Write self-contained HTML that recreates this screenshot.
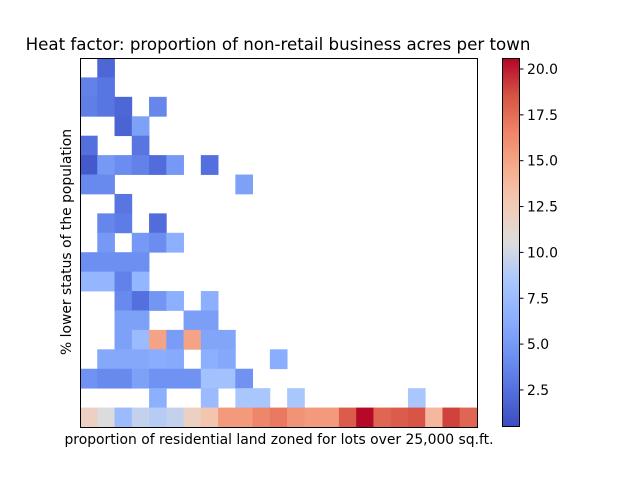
<!DOCTYPE html>
<html><head><meta charset="utf-8"><style>body{margin:0;background:#fff}svg text{font-family:"DejaVu Sans","Liberation Sans",sans-serif}</style></head>
<body>
<svg id="chart" width="640" height="480" xmlns="http://www.w3.org/2000/svg">
<text x="278" y="50" text-anchor="middle" font-size="16.67">Heat factor: proportion of non-retail business acres per town</text>
<g id="cells"></g>
<rect x="80.5" y="58.5" width="397" height="369" fill="none" stroke="#000" stroke-width="1"/>
<text x="279" y="444" text-anchor="middle" font-size="13.9">proportion of residential land zoned for lots over 25,000 sq.ft.</text>
<text transform="translate(71,242) rotate(-90)" text-anchor="middle" font-size="13.9">% lower status of the population</text>
<defs><linearGradient id="cw" x1="0" y1="1" x2="0" y2="0"></linearGradient></defs>
<rect x="502" y="58" width="18" height="369" fill="url(#cw)"/>
<rect x="502.5" y="58.5" width="17" height="368" fill="none" stroke="#000" stroke-width="1"/>
<g id="cbticks"></g>
</svg>
<script>
const N = null;
// grid rows top to bottom, 23 columns each; null = empty
const row00 = [N,2,N,N,N,N,N,N,N,N,N,N,N,N,N,N,N,N,N,N,N,N,N];
const row01 = [3.5,2.8,N,N,N,N,N,N,N,N,N,N,N,N,N,N,N,N,N,N,N,N,N];
const row02 = [3.3,2.8,2,N,3.8,N,N,N,N,N,N,N,N,N,N,N,N,N,N,N,N,N,N];
const row03 = [N,N,1.8,5.5,N,N,N,N,N,N,N,N,N,N,N,N,N,N,N,N,N,N,N];
const row04 = [2.5,N,N,2.8,N,N,N,N,N,N,N,N,N,N,N,N,N,N,N,N,N,N,N];
const row05 = [1.2,5,4.2,3.5,2.3,5,N,2.5,N,N,N,N,N,N,N,N,N,N,N,N,N,N,N];
const row06 = [4,4,N,N,N,N,N,N,N,5.5,N,N,N,N,N,N,N,N,N,N,N,N,N];
const row07 = [N,N,2.8,N,N,N,N,N,N,N,N,N,N,N,N,N,N,N,N,N,N,N,N];
const row08 = [N,3.8,3.2,N,2.3,N,N,N,N,N,N,N,N,N,N,N,N,N,N,N,N,N,N];
const row09 = [N,5,N,5,4.2,6.5,N,N,N,N,N,N,N,N,N,N,N,N,N,N,N,N,N];
const row10 = [4.3,4.3,4.3,4.3,N,N,N,N,N,N,N,N,N,N,N,N,N,N,N,N,N,N,N];
const row11 = [7,7,3.5,7,N,N,N,N,N,N,N,N,N,N,N,N,N,N,N,N,N,N,N];
const row12 = [N,N,4,2.5,4.8,6.5,N,6.5,N,N,N,N,N,N,N,N,N,N,N,N,N,N,N];
const row13 = [N,N,5.5,5.5,N,N,5.3,5.3,N,N,N,N,N,N,N,N,N,N,N,N,N,N,N];
const row14 = [N,N,5.5,7.5,15,5.2,15,5.8,5.8,N,N,N,N,N,N,N,N,N,N,N,N,N,N];
const row15 = [N,6,6,6,6.3,6.1,N,6.5,6,N,N,6.3,N,N,N,N,N,N,N,N,N,N,N];
const row16 = [4.5,4,4,5.5,4.5,4.5,4.5,8,8,4.5,N,N,N,N,N,N,N,N,N,N,N,N,N];
const row17 = [N,N,N,N,6.5,N,N,7.5,N,8.5,8.5,N,8.5,N,N,N,N,N,N,8.5,N,N,N];
const row18 = [12,10.5,7.5,9.5,9,9.5,12,13,15.5,15.5,16.5,17,15.8,15.5,15.5,18.2,20.5,17.8,18.2,18.5,13.8,19,17.8];
const grid = [row00,row01,row02,row03,row04,row05,row06,row07,row08,row09,row10,row11,row12,row13,row14,row15,row16,row17,row18];
const cbTickValues = [2.5,5.0,7.5,10.0,12.5,15.0,17.5,20.0];
const vmin = 0.48, vmax = 20.6;
const stops = ["#3b4cc0","#5470de","#6f92f3","#8db0fe","#aac7fd","#dddcdc","#f2cbb7","#f7ac8e","#ee8468","#d65244","#b40426"];
function hex(h){return [1,3,5].map(i=>parseInt(h.substr(i,2),16));}
function cmap(t){t=Math.max(0,Math.min(1,t));const p=t*10,i=Math.min(9,Math.floor(p)),f=p-i;const a=hex(stops[i]),b=hex(stops[i+1]);return `rgb(${a.map((v,k)=>Math.round(v+(b[k]-v)*f)).join(',')})`;}
const nRows=grid.length,nCols=grid[0].length;
const x0=80,y0=58,W=397,H=369,cw=W/nCols,ch=H/nRows;
const xs=c=>x0+c*cw, ys=r=>y0+r*ch, cy=v=>427-(v-vmin)/(vmax-vmin)*369;
const ns="http://www.w3.org/2000/svg";
const g=document.getElementById('cells');
grid.forEach((row,ri)=>row.forEach((v,ci)=>{
  if(v===null) return;
  const r=document.createElementNS(ns,'rect');
  r.setAttribute('x',xs(ci));r.setAttribute('y',ys(ri));
  r.setAttribute('width',cw+0.4);r.setAttribute('height',ch+0.4);
  r.setAttribute('fill',cmap((v-vmin)/(vmax-vmin)));
  
  
  g.appendChild(r);
}));
const grad=document.getElementById('cw');
for(let i=0;i<=20;i++){const s=document.createElementNS(ns,'stop');s.setAttribute('offset',i/20);s.setAttribute('stop-color',cmap(i/20));grad.appendChild(s);}
const tg=document.getElementById('cbticks');
cbTickValues.forEach(v=>{
  const y=cy(v);
  const l=document.createElementNS(ns,'line');
  l.setAttribute('x1',520);l.setAttribute('x2',523.5);l.setAttribute('y1',y);l.setAttribute('y2',y);l.setAttribute('stroke','#000');
  
  
  tg.appendChild(l);
  const t=document.createElementNS(ns,'text');
  t.setAttribute('x',527);t.setAttribute('y',y+5);t.setAttribute('font-size','13.9');
  t.textContent=v.toFixed(1);
  
  
  tg.appendChild(t);
});
</script>
</body></html>
